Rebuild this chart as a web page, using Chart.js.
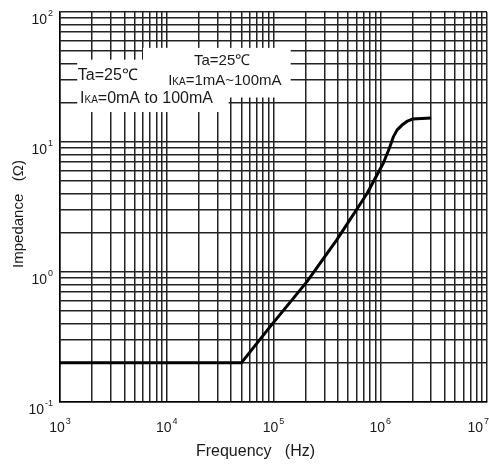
<!DOCTYPE html>
<html>
<head>
<meta charset="utf-8">
<script src="https://cdn.jsdelivr.net/npm/chart.js@4.4.1/dist/chart.umd.min.js"></script>
<style>
  html, body { margin: 0; padding: 0; background: #fff; }
  canvas { display: block; }
</style>
</head>
<body>
<canvas id="impedanceChart" width="489" height="464"></canvas>
<script>
const frequencyHz = [1e3, 5e4, 9.3e4, 2.05e5, 3.9e5, 7.5e5, 1.07e6, 1.22e6, 1.33e6, 1.44e6, 1.6e6, 1.8e6, 2.0e6, 3.0e6];
const impedanceOhm = [0.2, 0.2, 0.38, 0.84, 1.76, 4.0, 6.9, 9.0, 11.0, 12.4, 13.5, 14.5, 15.0, 15.3];

const xTickValues = [1e3, 1e4, 1e5, 1e6, 1e7];
const xTickExponents = ["3", "4", "5", "6", "7"];
const yTickValues = [0.1, 1, 10, 100];
const yTickExponents = ["-1", "0", "1", "2"];

const xTitle = "Frequency   (Hz)";
const yTitle = "Impedance   (Ω)";

// white boxes behind the notes, corners given in data units
const noteBoxes = [
  { x: [1.45e3, 3.8e4], y: [17, 43] },
  { x: [6e3, 1.45e5], y: [22, 53] }
];
// note lines: anchor in data units, parts are [text, "sub" | ""]
const noteLines = [
  { x: 1.47e3, y: 30, align: "left", size: 16, parts: [["Ta=25℃", ""]] },
  { x: 1.54e3, y: 20, align: "left", size: 16, parts: [["I", ""], ["KA", "sub"], ["=0mA to 100mA", ""]] },
  { x: 3.3e4, y: 39, align: "center", size: 15, parts: [["Ta=25℃", ""]] },
  { x: 3.5e4, y: 27.4, align: "center", size: 15, parts: [["I", ""], ["KA", "sub"], ["=1mA~100mA", ""]] }
];

const FONT = '"Liberation Sans", Arial, sans-serif';

function gridValues(loExp, hiExp) {
  const out = [];
  for (let e = loExp; e < hiExp; e++) {
    for (let k = 1; k <= 9; k++) out.push(Number((k * Math.pow(10, e)).toPrecision(6)));
  }
  out.push(Math.pow(10, hiExp));
  return out;
}

function drawParts(ctx, parts, x, y, size, align, maxRight) {
  const small = Math.round(size * 0.64);
  const fonts = parts.map(([, mode]) => `${mode ? small : size}px ${FONT}`);
  const widths = parts.map(([t], i) => { ctx.font = fonts[i]; return ctx.measureText(t).width; });
  const total = widths.reduce((a, b) => a + b, 0) + (parts.some(p => p[1] === "sup") ? 1 : 0);
  let cx = align === "center" ? x - total / 2 : align === "right" ? x - total : x;
  if (maxRight && cx + total > maxRight) cx = maxRight - total;
  parts.forEach(([t, mode], i) => {
    ctx.font = fonts[i];
    if (mode === "sup") cx += 1;
    ctx.fillText(t, cx, mode === "sup" ? y - size * 0.55 : y);
    cx += widths[i];
  });
}

const paperPlugin = {
  id: "paper",
  beforeDatasetsDraw(chart) {
    const { ctx, scales: { x, y } } = chart;
    ctx.save();
    ctx.fillStyle = "#fff";
    noteBoxes.forEach(b => {
      const x1 = x.getPixelForValue(b.x[0]), x2 = x.getPixelForValue(b.x[1]);
      const y1 = y.getPixelForValue(b.y[1]), y2 = y.getPixelForValue(b.y[0]);
      ctx.fillRect(x1, y1, x2 - x1, y2 - y1);
    });
    ctx.restore();
  },
  afterDraw(chart) {
    const { ctx, chartArea, scales: { x, y } } = chart;
    ctx.save();
    ctx.fillStyle = "#1a1a1a";
    ctx.textBaseline = "alphabetic";
    ctx.textAlign = "left";

    noteLines.forEach(n => {
      drawParts(ctx, n.parts, x.getPixelForValue(n.x), y.getPixelForValue(n.y), n.size, n.align);
    });

    xTickValues.forEach((v, i) => {
      drawParts(ctx, [["10", ""], [xTickExponents[i], "sup"]], x.getPixelForValue(v), chartArea.bottom + 30, 14, "center", chart.width);
    });
    yTickValues.forEach((v, i) => {
      drawParts(ctx, [["10", ""], [yTickExponents[i], "sup"]], chartArea.left - 7, y.getPixelForValue(v) + 12, 14, "right");
    });

    ctx.font = `16px ${FONT}`;
    ctx.textAlign = "center";
    ctx.fillText(xTitle, (chartArea.left + chartArea.right) / 2 - 18, chartArea.bottom + 54);

    ctx.translate(23, (chartArea.top + chartArea.bottom) / 2 + 7);
    ctx.rotate(-Math.PI / 2);
    ctx.font = `15px ${FONT}`;
    ctx.fillText(yTitle, 0, 0);
    ctx.restore();
  }
};

new Chart(document.getElementById("impedanceChart"), {
  type: "line",
  data: {
    datasets: [
      {
        data: frequencyHz.map((f, i) => ({ x: f, y: impedanceOhm[i] })),
        borderColor: "#000",
        borderWidth: 3,
        borderJoinStyle: "round",
        pointRadius: 0,
        tension: 0,
        fill: false
      }
    ]
  },
  options: {
    responsive: false,
    animation: false,
    devicePixelRatio: 1,
    layout: { padding: { top: 12, right: 2, left: 0, bottom: 0 } },
    plugins: { legend: { display: false }, tooltip: { enabled: false } },
    scales: {
      x: {
        type: "logarithmic",
        min: 1e3,
        max: 1e7,
        afterBuildTicks: s => { s.ticks = gridValues(3, 7).map(v => ({ value: v })); },
        afterFit: s => { s.height = 62; },
        ticks: { display: false },
        grid: { color: "#222", lineWidth: 1.5, drawTicks: false },
        border: { color: "#000", width: 1.5 }
      },
      y: {
        type: "logarithmic",
        min: 0.1,
        max: 100,
        afterBuildTicks: s => { s.ticks = gridValues(-1, 2).map(v => ({ value: v })); },
        afterFit: s => { s.width = 60; },
        ticks: { display: false },
        grid: { color: "#222", lineWidth: 1.5, drawTicks: false },
        border: { color: "#000", width: 1.5 }
      }
    }
  },
  plugins: [paperPlugin]
});
</script>
</body>
</html>
